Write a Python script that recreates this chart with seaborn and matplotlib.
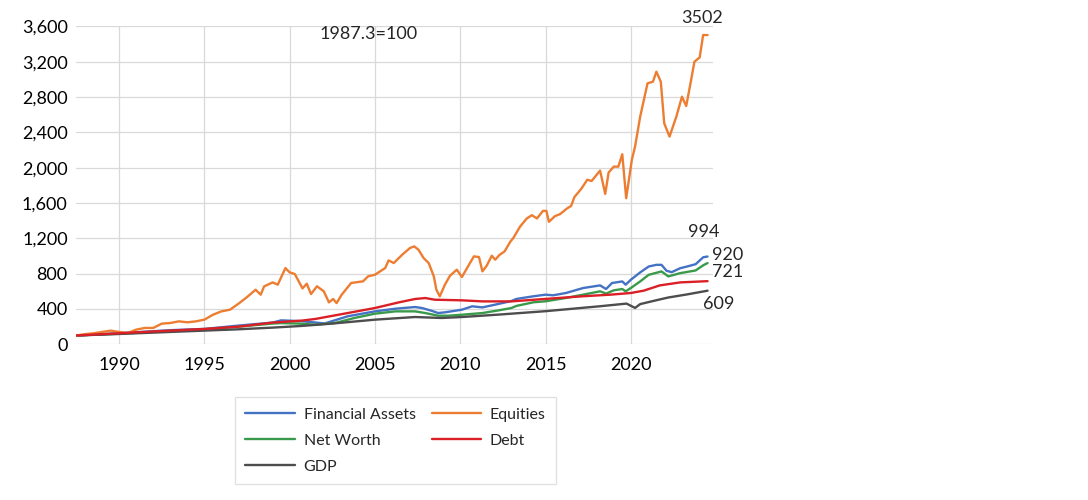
import numpy as np
import matplotlib
matplotlib.use("Agg")
import matplotlib.pyplot as plt
import seaborn as sns
from matplotlib.ticker import FuncFormatter

# values (index, 1987.3=100)
eq_years = [1987.5, 1988.0, 1988.5, 1989.0, 1989.5, 1990.0, 1990.5, 1991.0, 1991.5, 1992.0,
            1992.5, 1993.0, 1993.5, 1994.0, 1994.5, 1995.0, 1995.5, 1996.0, 1996.5, 1997.0,
            1997.5, 1998.0, 1998.3, 1998.5, 1999.0, 1999.3, 1999.75, 2000.0, 2000.3, 2000.75,
            2001.0, 2001.25, 2001.6, 2002.0, 2002.3, 2002.55, 2002.75, 2003.05, 2003.6, 2004.3,
            2004.6, 2005.0, 2005.6, 2005.8, 2006.1, 2006.6, 2007.05, 2007.3, 2007.55, 2007.85,
            2008.15, 2008.45, 2008.6, 2008.8, 2009.1, 2009.4, 2009.8, 2010.1, 2010.4, 2010.8,
            2011.1, 2011.3, 2011.55, 2011.85, 2012.05, 2012.3, 2012.6, 2012.95, 2013.1, 2013.5,
            2013.9, 2014.2, 2014.5, 2014.85, 2015.05, 2015.2, 2015.55, 2015.85, 2016.25, 2016.5,
            2016.7, 2017.1, 2017.45, 2017.7, 2018.2, 2018.5, 2018.7, 2019.0, 2019.27, 2019.5,
            2019.73, 2020.06, 2020.25, 2020.55, 2020.98, 2021.3, 2021.5, 2021.76, 2021.96, 2022.27,
            2022.67, 2023.0, 2023.25, 2023.5, 2023.73, 2024.04, 2024.24, 2024.5]
equities = [100, 115, 125, 140, 155, 140, 128, 166, 185, 185,
            234, 241, 260, 249, 260, 279, 335, 373, 392, 460,
            535, 618, 562, 656, 701, 675, 863, 814, 796, 633,
            686, 569, 657, 600, 475, 513, 467, 562, 694, 713,
            770, 788, 864, 950, 920, 1015, 1090, 1109, 1071, 977,
            920, 770, 619, 543, 675, 777, 845, 762, 864, 996,
            988, 826, 890, 1003, 958, 1012, 1052, 1166, 1200, 1331,
            1425, 1462, 1425, 1511, 1511, 1387, 1451, 1474, 1537, 1567,
            1669, 1762, 1864, 1849, 1967, 1703, 1945, 2012, 2012, 2152,
            1654, 2087, 2239, 2578, 2955, 2974, 3087, 2974, 2503, 2352,
            2578, 2804, 2699, 2955, 3200, 3249, 3502, 3502]

fa_years = [1987.5, 1990.0, 1993.0, 1995.0, 1997.0, 1999.0, 1999.5, 2000.7, 2002.05, 2003.4,
            2005.0, 2006.2, 2007.35, 2007.75, 2008.3, 2008.7, 2009.1, 2010.1, 2010.7, 2011.3,
            2012.05, 2013.0, 2013.3, 2014.3, 2015.0, 2015.45, 2016.2, 2017.2, 2018.2, 2018.55,
            2018.9, 2019.5, 2019.7, 2020.0, 2020.55, 2021.05, 2021.5, 2021.8, 2022.1, 2022.4,
            2022.9, 2023.3, 2023.8, 2024.25, 2024.5]
fin_assets = [100, 125, 160, 174, 212, 246, 271, 262, 236, 317,
              373, 403, 422, 411, 381, 354, 362, 392, 430, 418,
              449, 490, 514, 544, 562, 555, 581, 637, 667, 626,
              694, 712, 675, 731, 814, 881, 900, 900, 832, 817,
              862, 881, 907, 986, 994]

nw_years = [1987.5, 1990.0, 1993.0, 1995.0, 1997.0, 1999.0, 1999.5, 2000.5, 2001.5, 2002.65,
            2003.8, 2005.0, 2006.2, 2007.35, 2007.95, 2008.7, 2009.3, 2010.1, 2011.3, 2012.3,
            2013.0, 2013.3, 2014.3, 2015.0, 2016.2, 2017.2, 2018.2, 2018.55, 2019.0, 2019.5,
            2019.7, 2020.0, 2020.55, 2021.05, 2021.8, 2022.2, 2022.9, 2023.8, 2024.25, 2024.5]
net_worth = [100, 120, 150, 165, 200, 235, 240, 235, 222, 241,
             298, 347, 373, 373, 354, 324, 324, 335, 354, 386,
             411, 435, 476, 487, 525, 562, 600, 574, 611, 626,
             600, 637, 712, 787, 825, 769, 806, 836, 895, 920]

debt_years = [1987.5, 1990.0, 1993.0, 1995.0, 1997.0, 1999.0, 2000.7, 2001.5, 2003.4, 2005.0,
              2006.4, 2007.35, 2007.95, 2008.5, 2010.1, 2011.3, 2013.0, 2015.0, 2017.2, 2018.8,
              2020.0, 2020.75, 2021.7, 2022.9, 2024.5]
debt = [100, 125, 155, 174, 200, 246, 268, 287, 354, 411,
        475, 513, 524, 505, 498, 486, 486, 514, 544, 562,
        581, 607, 667, 701, 715]

gdp_years = [1987.5, 1990.0, 1993.0, 1995.0, 1997.0, 1999.0, 2000.7, 2002.45, 2005.0, 2007.35,
             2008.9, 2010.1, 2012.3, 2015.0, 2018.2, 2019.75, 2020.25, 2020.55, 2021.3, 2022.2,
             2023.3, 2024.5]
gdp = [100, 117, 140, 155, 170, 189, 208, 234, 279, 309,
       298, 309, 337, 375, 431, 461, 412, 455, 490, 530,
       565, 607]

sns.set_style("white")
plt.rcParams['font.family'] = ['Lato', 'DejaVu Sans']

fig = plt.figure(figsize=(10.88, 5.0), dpi=100)
ax = fig.add_axes([76 / 1088, 1 - 344.3 / 500, (713 - 76) / 1088, (344.3 - 26.4) / 500])

lw = 1.7
sns.lineplot(x=fa_years, y=fin_assets, color="#4472C4", lw=lw, ax=ax, label="Financial Assets")
sns.lineplot(x=nw_years, y=net_worth, color="#3A9A4B", lw=lw, ax=ax, label="Net Worth")
sns.lineplot(x=gdp_years, y=gdp, color="#4D4D4D", lw=lw, ax=ax, label="GDP")
sns.lineplot(x=eq_years, y=equities, color="#ED7D31", lw=lw, ax=ax, label="Equities")
sns.lineplot(x=debt_years, y=debt, color="#DA1F26", lw=lw, ax=ax, label="Debt")

ax.set_xlim(1987.47, 2024.82)
ax.set_ylim(0, 3600)
ax.set_yticks(np.arange(0, 3601, 400))
ax.set_xticks([1990, 1995, 2000, 2005, 2010, 2015, 2020])
ax.yaxis.set_major_formatter(FuncFormatter(lambda v, p: f"{v:,.0f}"))
ax.grid(True, color="#d9d9d9", lw=0.9)
ax.set_axisbelow(True)
for s in ax.spines.values():
    s.set_visible(False)
ax.tick_params(axis="both", length=0, labelsize=13, colors="#000000")
ax.tick_params(axis="y", pad=6)
ax.tick_params(axis="x", pad=9)
ax.set_xlabel("")
ax.set_ylabel("")

# end-value labels
ax.text(2024.18, 3697, "3502", fontsize=13, ha="center", va="center", clip_on=False)
ax.text(2024.3, 1272, "994", fontsize=13, ha="center", va="center", clip_on=False)
ax.text(2024.76, 1012, "920", fontsize=13, ha="left", va="center", clip_on=False)
ax.text(2024.76, 819, "721", fontsize=13, ha="left", va="center", clip_on=False)
ax.text(2024.24, 457, "609", fontsize=13, ha="left", va="center", clip_on=False)
ax.text(2004.63, 3516, "1987.3=100", fontsize=13, ha="center", va="center")

handles, labels = ax.get_legend_handles_labels()
ax.legend_.remove()
leg = fig.legend(handles, labels, ncol=2, loc="upper left",
                 bbox_to_anchor=(235 / 1088, 1 - 397 / 500), borderaxespad=0,
                 fontsize=11.5, frameon=True, fancybox=False, edgecolor="#d9d9d9",
                 handlelength=3.1, handletextpad=0.55, columnspacing=1.0,
                 labelspacing=0.75, borderpad=0.65)
leg.get_frame().set_linewidth(1.0)

fig.savefig("out.png", dpi=100, facecolor="white")
